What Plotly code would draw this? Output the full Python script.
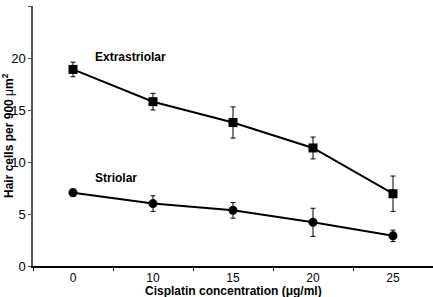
import plotly.graph_objects as go

concentrations = ["0", "10", "15", "20", "25"]
extra_mean = [18.9, 15.8, 13.8, 11.35, 6.95]
extra_err = [0.7, 0.8, 1.5, 1.05, 1.7]
striolar_mean = [7.05, 6.0, 5.35, 4.2, 2.9]
striolar_err = [0.35, 0.75, 0.75, 1.35, 0.55]

font_family = "Liberation Sans, Arial, sans-serif"

fig = go.Figure()
for name, y, e, sym in [("Extrastriolar", extra_mean, extra_err, "square"),
                        ("Striolar", striolar_mean, striolar_err, "circle")]:
    fig.add_trace(go.Scatter(
        x=concentrations, y=y, name=name, mode="lines+markers",
        line=dict(color="black", width=2),
        marker=dict(symbol=sym, size=9, color="black"),
        error_y=dict(type="data", array=e, visible=True, color="black",
                     thickness=1, width=2.5),
        showlegend=False, cliponaxis=False,
    ))

fig.add_annotation(x=0.25, y=20.1, xref="x", yref="y", text="<b>Extrastriolar</b>",
                   showarrow=False, xanchor="left", yanchor="middle",
                   font=dict(family=font_family, size=12, color="black"))
fig.add_annotation(x=0.25, y=8.5, xref="x", yref="y", text="<b>Striolar</b>",
                   showarrow=False, xanchor="left", yanchor="middle",
                   font=dict(family=font_family, size=12, color="black"))

# axis titles
fig.add_annotation(x=0.5, y=0, xref="paper", yref="paper", yshift=-16,
                   text="<b>Cisplatin concentration (μg/ml)</b>",
                   showarrow=False, xanchor="center", yanchor="top",
                   font=dict(family=font_family, size=12, color="black"))
fig.add_annotation(x=0, y=0.5, xref="paper", yref="paper", xshift=-25,
                   text="<b>Hair cells per 900 </b>μ<b>m<sup>2</sup></b>",
                   textangle=-90, showarrow=False, xanchor="center", yanchor="middle",
                   font=dict(family=font_family, size=12, color="black"))

fig.update_layout(
    width=433, height=297,
    margin=dict(l=33, r=0, t=6, b=31, autoexpand=False),
    paper_bgcolor="white", plot_bgcolor="white",
    font=dict(family=font_family, size=12, color="black"),
    xaxis=dict(
        type="category", range=[-0.5, 4.5], showgrid=False, zeroline=False,
        showline=True, linecolor="black", linewidth=1.5,
        ticks="outside", tickson="boundaries", ticklen=3, tickcolor="black",
        tickfont=dict(size=12), automargin=False,
    ),
    yaxis=dict(
        range=[0, 25], dtick=5, showgrid=False, zeroline=False,
        showline=True, linecolor="#555", linewidth=1.5,
        ticks="outside", ticklen=3, tickcolor="#555",
        tickfont=dict(size=13), automargin=False,
    ),
)

fig.write_html("out.html", config={"displayModeBar": False},
               post_script="document.body.style.margin='0';document.body.style.overflow='hidden';")
